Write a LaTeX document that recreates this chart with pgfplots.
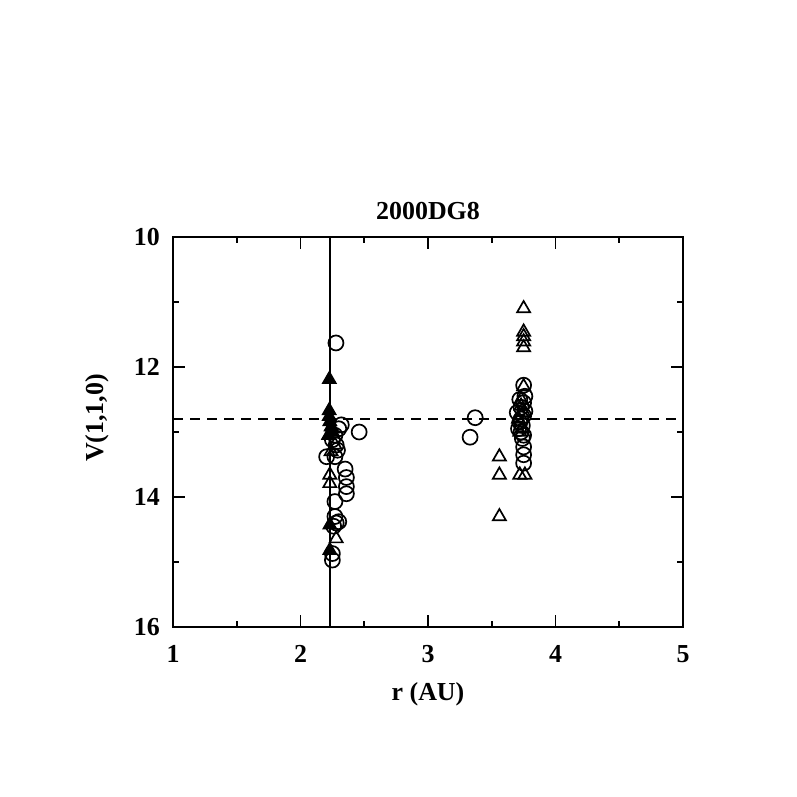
\documentclass[border=0pt]{standalone}
\usepackage{fontspec}
\setmainfont{Liberation Serif}
\usepackage{pgfplots}
\pgfplotsset{compat=1.18}
\begin{document}
\begin{tikzpicture}
\useasboundingbox (0bp,0bp) rectangle (797bp,797bp);
\begin{axis}[
  at={(173bp,170bp)}, anchor=south west,
  scale only axis, width=510bp, height=390bp,
  xmin=1, xmax=5, ymin=10, ymax=16, y dir=reverse,
  xtick={1,2,3,4,5}, ytick={10,12,14,16},
  minor xtick={1.5,2.5,3.5,4.5}, minor ytick={11,13,15},
  tick align=inside, major tick length=12bp, minor tick length=6bp,
  axis line style={line width=2bp},
  every tick/.style={line width=1.8bp, black},
  /pgf/number format/assume math mode=true,
  tick label style={font=\fontsize{26}{28}\selectfont\bfseries},
  xticklabel style={anchor=center, yshift=-27bp},
  yticklabel style={anchor=east, inner sep=0pt, xshift=-13bp},
]
\addplot[line width=1.8bp, black, mark=none] coordinates {(2.23,10) (2.23,16)};
\addplot[line width=1.8bp, black, dash pattern=on 10bp off 7bp, mark=none] coordinates {(1,12.8) (5,12.8)};
% open circles
\addplot[only marks, mark=o, mark size=7.5bp, mark options={line width=1.7bp, black}] coordinates {
 (2.278,11.63) (2.32,12.89) (2.30,12.95) (2.27,13.05) (2.205,13.38) (2.27,13.38) (2.28,13.20)
 (2.25,13.12) (2.29,13.28)
 (2.35,13.57) (2.36,13.70) (2.36,13.84) (2.36,13.95) (2.27,14.07) (2.27,14.30) (2.30,14.38)
 (2.26,14.45) (2.28,14.40) (2.25,14.87) (2.25,14.97) (2.46,13.00)
 (3.33,13.08) (3.37,12.78)
 (3.75,12.28) (3.72,12.50) (3.75,12.55) (3.73,12.62) (3.70,12.70) (3.75,12.75) (3.72,12.85)
 (3.74,12.90) (3.73,13.00) (3.75,13.05) (3.74,13.10) (3.75,13.23) (3.75,13.35) (3.75,13.48)
 (3.76,12.45) (3.71,12.95) (3.76,12.68) (3.73,12.80)
};
% open triangles
\addplot[only marks, mark=triangle, mark size=7.5bp, mark options={line width=1.7bp, black}] coordinates {
 (3.75,11.10) (3.75,11.46) (3.75,11.53) (3.75,11.61) (3.75,11.70) (3.75,12.30) (3.73,12.60)
 (3.71,12.80) (3.74,12.95) (3.72,13.00) (3.72,13.66) (3.76,13.66) (3.75,12.70) (3.73,12.50)
 (3.56,13.38) (3.56,13.66) (3.56,14.30)
 (2.27,13.20) (2.23,13.66) (2.23,13.79) (2.28,14.64) (2.24,13.30)
};
% filled triangles
\addplot[only marks, mark=triangle*, mark size=7.5bp, mark options={line width=1.5bp, draw=black, fill=black}] coordinates {
 (2.226,12.19) (2.225,12.67) (2.225,12.76) (2.23,12.84) (2.24,12.92) (2.25,12.95) (2.25,13.00)
 (2.22,13.05) (2.23,14.43) (2.23,14.82)
};
\end{axis}
\node[font=\fontsize{26}{28}\selectfont\bfseries] at (428bp,586bp) {2000DG8};
\node[font=\fontsize{26}{28}\selectfont\bfseries] at (428bp,103bp) {r (AU)};
\node[font=\fontsize{26}{28}\selectfont\bfseries, rotate=90] at (97bp,379bp) {V(1,1,0)};
\end{tikzpicture}
\end{document}
